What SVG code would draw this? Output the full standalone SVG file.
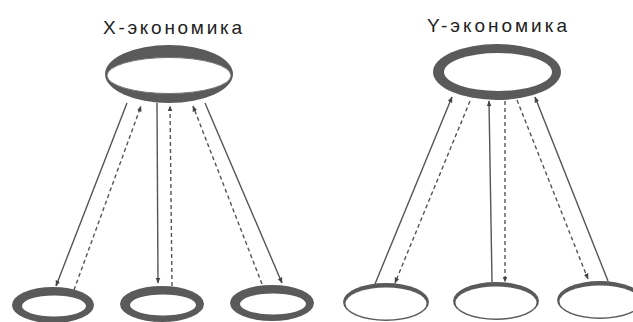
<svg xmlns="http://www.w3.org/2000/svg" width="633" height="322" viewBox="0 0 633 322">
<style>
.title{font-family:"Liberation Sans",Arial,sans-serif;font-size:19px;fill:#222}
.ln{stroke:#555;stroke-width:1.4;fill:none}
.dash{stroke-dasharray:4 3}
.dark{fill:#5a5a5a}
.white{fill:#fff}
</style>
<defs>
<marker id="ah" viewBox="0 0 10 10" refX="9" refY="5" markerWidth="6" markerHeight="6" orient="auto" markerUnits="userSpaceOnUse">
<path d="M0,1 L10,5 L0,9 z" fill="#444"/>
</marker>
</defs>
<rect width="633" height="322" fill="#fff"/>
<text class="title" x="103" y="34" textLength="139" lengthAdjust="spacing">X-экономика</text>
<text class="title" x="427" y="32" textLength="140" lengthAdjust="spacing">Y-экономика</text>

<g id="connectors">
<!-- X economy -->
<line class="ln" x1="127" y1="103" x2="56" y2="286" marker-end="url(#ah)"/>
<line class="ln dash" x1="74" y1="290" x2="141" y2="106" marker-end="url(#ah)"/>
<line class="ln" x1="157" y1="103" x2="158" y2="283" marker-end="url(#ah)"/>
<line class="ln dash" x1="172" y1="286" x2="170" y2="106" marker-end="url(#ah)"/>
<line class="ln dash" x1="262" y1="284" x2="193" y2="106" marker-end="url(#ah)"/>
<line class="ln" x1="205" y1="103" x2="282" y2="283" marker-end="url(#ah)"/>
<!-- Y economy -->
<line class="ln" x1="375" y1="284" x2="452" y2="97" marker-end="url(#ah)"/>
<line class="ln dash" x1="470" y1="101" x2="395" y2="283" marker-end="url(#ah)"/>
<line class="ln" x1="492" y1="282" x2="489" y2="101" marker-end="url(#ah)"/>
<line class="ln dash" x1="505" y1="101" x2="505" y2="282" marker-end="url(#ah)"/>
<line class="ln dash" x1="517" y1="100" x2="588" y2="279" marker-end="url(#ah)"/>
<line class="ln" x1="608" y1="281" x2="535" y2="97" marker-end="url(#ah)"/>
</g>

<g id="x-top">
<ellipse class="dark" cx="169" cy="74" rx="64" ry="29"/>
<ellipse class="white" cx="169" cy="75.5" rx="62" ry="18" stroke="#777" stroke-width="1"/>
</g>
<g id="x-b1">
<ellipse class="dark" cx="53" cy="305" rx="41" ry="18"/>
<ellipse class="white" cx="54" cy="306" rx="32" ry="10.5"/>
</g>
<g id="x-b2">
<ellipse class="dark" cx="162" cy="304" rx="42" ry="18"/>
<ellipse class="white" cx="163" cy="305" rx="33" ry="10.5"/>
</g>
<g id="x-b3">
<ellipse class="dark" cx="272" cy="303" rx="42" ry="18"/>
<ellipse class="white" cx="273" cy="304" rx="33" ry="10.5"/>
</g>

<g id="y-top">
<ellipse class="dark" cx="497" cy="72" rx="64" ry="28"/>
<ellipse class="white" cx="498" cy="72" rx="54" ry="19"/>
</g>
<g id="y-b1">
<ellipse class="dark" cx="386" cy="302" rx="43" ry="19"/>
<ellipse class="white" cx="386" cy="303.5" rx="40.5" ry="16"/>
</g>
<g id="y-b2">
<ellipse class="dark" cx="496" cy="301" rx="43" ry="19"/>
<ellipse class="white" cx="496" cy="302.5" rx="40.5" ry="16"/>
</g>
<g id="y-b3">
<ellipse class="dark" cx="600" cy="300" rx="43" ry="19"/>
<ellipse class="white" cx="600" cy="301.5" rx="40.5" ry="16"/>
</g>
</svg>
